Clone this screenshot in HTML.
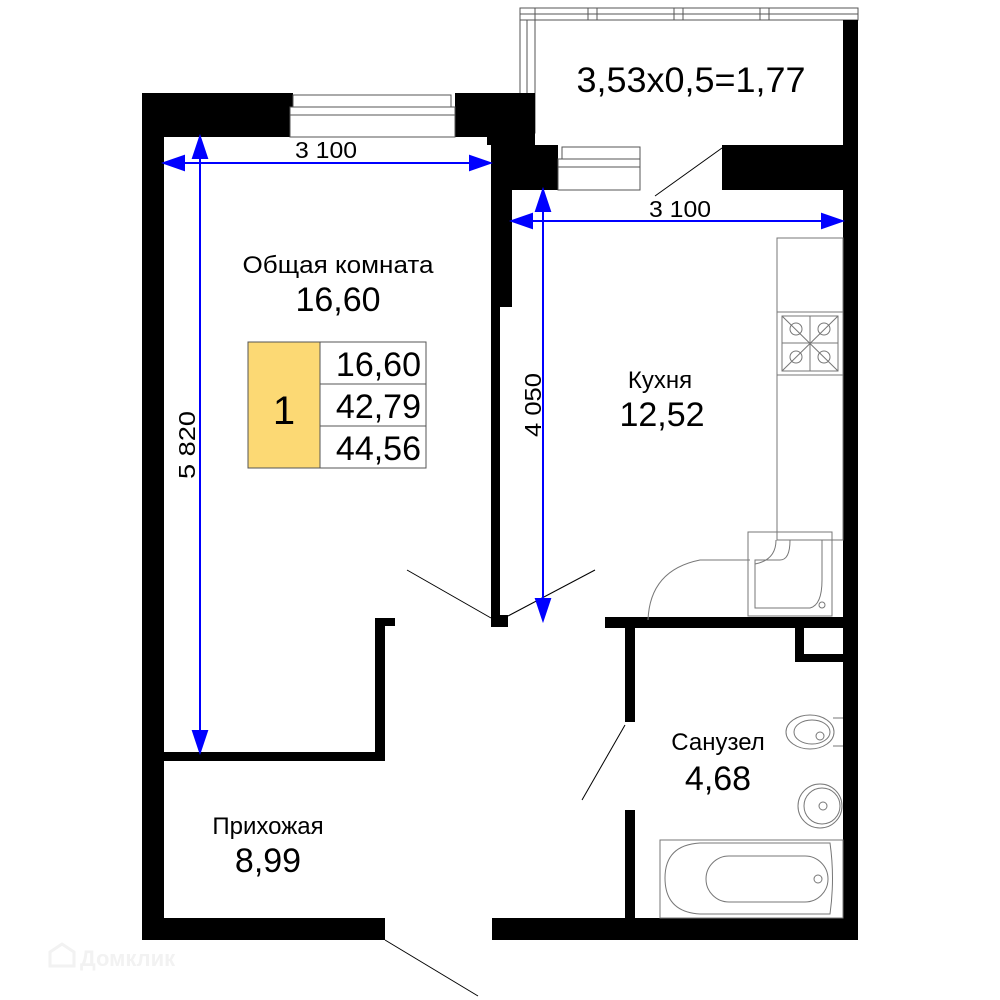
<!DOCTYPE html>
<html><head><meta charset="utf-8"><style>
html,body{margin:0;padding:0;background:#fff;}
svg{display:block;}
text{font-family:"Liberation Sans",sans-serif;fill:#000;}
</style></head><body>
<svg width="1000" height="1000" viewBox="0 0 1000 1000" xmlns="http://www.w3.org/2000/svg">
<rect width="1000" height="1000" fill="#fff"/>
<g fill="none" stroke="#555" stroke-width="1">
<rect x="520" y="8" width="338" height="12"/>
<line x1="520" y1="14" x2="858" y2="14"/>
<rect x="520" y="8" width="15" height="125"/>
<line x1="527" y1="20" x2="527" y2="133"/>
<line x1="588" y1="8" x2="588" y2="20"/><line x1="597" y1="8" x2="597" y2="20"/>
<line x1="674" y1="8" x2="674" y2="20"/><line x1="683" y1="8" x2="683" y2="20"/>
<line x1="760" y1="8" x2="760" y2="20"/><line x1="769" y1="8" x2="769" y2="20"/>
</g>
<g fill="#000">
<rect x="142" y="93" width="151" height="44"/>
<rect x="455" y="93" width="80" height="44"/>
<rect x="487" y="93" width="48" height="52"/>
<rect x="491" y="137" width="21" height="170"/>
<rect x="491" y="300" width="9" height="327"/>
<rect x="491" y="615" width="17" height="12"/>
<rect x="500" y="145" width="58" height="45"/>
<rect x="722" y="145" width="121" height="45"/>
<rect x="843" y="20" width="15" height="920"/>
<rect x="142" y="93" width="22" height="847"/>
<rect x="142" y="918" width="243" height="22"/>
<rect x="492" y="918" width="366" height="22"/>
<rect x="164" y="752" width="221" height="9"/>
<rect x="375" y="618" width="10" height="143"/>
<rect x="375" y="618" width="20" height="8"/>
<rect x="605" y="617" width="238" height="11"/>
<rect x="625" y="617" width="10" height="105"/>
<rect x="625" y="810" width="10" height="108"/>
<rect x="795" y="628" width="9" height="34"/>
<rect x="795" y="654" width="48" height="8"/>
</g>
<g fill="#fff" stroke="#555" stroke-width="1">
<rect x="293" y="93" width="162" height="44" stroke="none"/>
<rect x="293" y="95" width="158" height="12"/>
<rect x="290" y="107" width="165" height="8"/>
<rect x="290" y="115" width="165" height="22"/>
<rect x="560" y="145" width="80" height="45" stroke="none"/>
<rect x="562" y="147" width="78" height="12"/>
<rect x="558" y="159" width="82" height="8"/>
<rect x="558" y="167" width="82" height="23"/>
</g>
<g stroke="#000" stroke-width="1">
<line x1="722" y1="148" x2="655" y2="196"/>
<line x1="407" y1="570" x2="491" y2="618"/>
<line x1="508" y1="616" x2="595" y2="570"/>
<line x1="625" y1="725" x2="582" y2="800"/>
<line x1="385" y1="940" x2="478" y2="996"/>
</g>
<g fill="none" stroke="#777" stroke-width="1">
<rect x="777" y="238" width="66" height="302"/>
<line x1="777" y1="312" x2="843" y2="312"/>
<line x1="777" y1="375" x2="843" y2="375"/>
<rect x="782" y="316" width="56" height="55"/>
<line x1="782" y1="316" x2="838" y2="371"/><line x1="838" y1="316" x2="782" y2="371"/>
<line x1="810" y1="316" x2="810" y2="371"/><line x1="782" y1="343" x2="838" y2="343"/>
<circle cx="796" cy="329" r="6"/><circle cx="824" cy="329" r="6"/>
<circle cx="796" cy="357" r="6"/><circle cx="824" cy="357" r="6"/>
<rect x="748" y="532" width="84" height="84"/>
<path d="M755 560 L780 560 Q790 560 790 540 L822 540 L822 580 Q822 605 810 608 L755 608 Z"/>
<path d="M648 620 Q650 570 700 560 L750 560"/>
<path d="M776 540 Q776 560 755 564"/>
<circle cx="822" cy="605" r="3"/>
<ellipse cx="810" cy="732" rx="24" ry="17"/>
<ellipse cx="812" cy="732" rx="18" ry="12"/>
<line x1="833" y1="718" x2="843" y2="718"/><line x1="833" y1="746" x2="843" y2="746"/>
<circle cx="820" cy="806" r="22"/>
<circle cx="822" cy="806" r="18"/>
<rect x="660" y="840" width="183" height="78"/>
<path d="M700 843 Q665 845 665 878 Q665 912 700 914 L830 914 Q835 878 830 843 Z"/>
<rect x="706" y="856" width="122" height="46" rx="23"/>
<circle cx="818" cy="879" r="4"/><circle cx="820" cy="736" r="4"/><circle cx="823" cy="806" r="4"/>
</g>
<g stroke="#0000ff" stroke-width="2" fill="#0000ff">
<line x1="172" y1="163" x2="482" y2="163"/>
<polygon points="164,163 184,156 184,170"/>
<polygon points="490,163 470,156 470,170"/>
<line x1="200" y1="145" x2="200" y2="745"/>
<polygon points="200,137 193,158 207,158"/>
<polygon points="200,752 193,731 207,731"/>
<line x1="520" y1="221" x2="834" y2="221"/>
<polygon points="512,221 532,214 532,228"/>
<polygon points="842,221 822,214 822,228"/>
<line x1="543" y1="198" x2="543" y2="612"/>
<polygon points="543,190 536,211 550,211"/>
<polygon points="543,620 536,599 550,599"/>
</g>
<text x="326" y="158" font-size="23" text-anchor="middle" textLength="62" lengthAdjust="spacingAndGlyphs">3 100</text>
<text x="680" y="217" font-size="23" text-anchor="middle" textLength="62" lengthAdjust="spacingAndGlyphs">3 100</text>
<text transform="translate(195,445) rotate(-90)" font-size="23" text-anchor="middle" textLength="68" lengthAdjust="spacingAndGlyphs">5 820</text>
<text transform="translate(541,405) rotate(-90)" font-size="23" text-anchor="middle" textLength="64" lengthAdjust="spacingAndGlyphs">4 050</text>
<rect x="248" y="342" width="72" height="126" fill="#fcd974" stroke="#555"/>
<rect x="320" y="342" width="106" height="42" fill="#fff" stroke="#555"/>
<rect x="320" y="384" width="106" height="42" fill="#fff" stroke="#555"/>
<rect x="320" y="426" width="106" height="42" fill="#fff" stroke="#555"/>
<text x="284" y="424" font-size="40" text-anchor="middle">1</text>
<text x="421" y="376" font-size="34" text-anchor="end">16,60</text>
<text x="421" y="418" font-size="34" text-anchor="end">42,79</text>
<text x="421" y="460" font-size="34" text-anchor="end">44,56</text>
<text x="691" y="92" font-size="35" text-anchor="middle" textLength="229" lengthAdjust="spacingAndGlyphs">3,53x0,5=1,77</text>
<text x="338" y="273" font-size="24" text-anchor="middle" textLength="191" lengthAdjust="spacingAndGlyphs">Общая комната</text>
<text x="338" y="311" font-size="34" text-anchor="middle">16,60</text>
<text x="660" y="388" font-size="24" text-anchor="middle">Кухня</text>
<text x="662" y="426" font-size="34" text-anchor="middle">12,52</text>
<text x="718" y="750" font-size="24" text-anchor="middle">Санузел</text>
<text x="718" y="790" font-size="34" text-anchor="middle">4,68</text>
<text x="268" y="834" font-size="24" text-anchor="middle">Прихожая</text>
<text x="268" y="872" font-size="34" text-anchor="middle">8,99</text>
<text x="80" y="966" font-size="22" font-weight="bold" style="fill:#f2f2f2">Домклик</text>
<path d="M50 966 L50 952 L62 944 L74 952 L74 966 Z" fill="none" stroke="#f2f2f2" stroke-width="3"/>
</svg>
</body></html>
